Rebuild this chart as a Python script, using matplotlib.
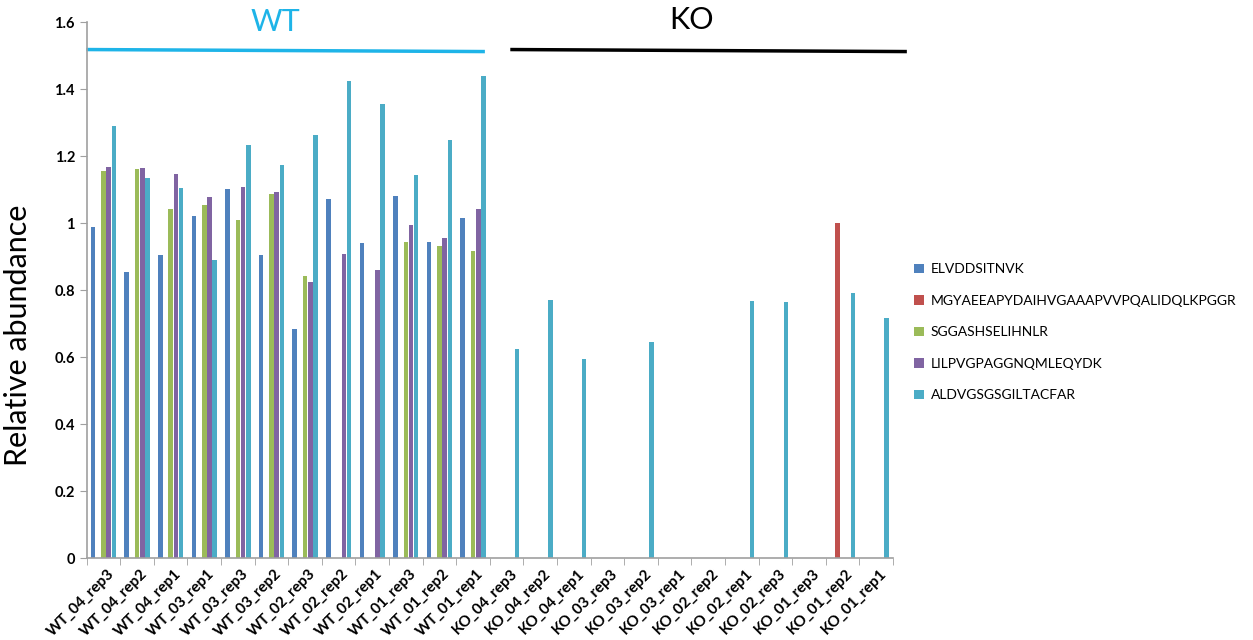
import numpy as np
import matplotlib
matplotlib.use("Agg")
import matplotlib.pyplot as plt

plt.rcParams['font.family'] = ['Lato', 'DejaVu Sans']

samples = ["WT_04_rep3", "WT_04_rep2", "WT_04_rep1", "WT_03_rep1", "WT_03_rep3", "WT_03_rep2",
           "WT_02_rep3", "WT_02_rep2", "WT_02_rep1", "WT_01_rep3", "WT_01_rep2", "WT_01_rep1",
           "KO_04_rep3", "KO_04_rep2", "KO_04_rep1", "KO_03_rep3", "KO_03_rep2", "KO_03_rep1",
           "KO_02_rep2", "KO_02_rep1", "KO_02_rep3", "KO_01_rep3", "KO_01_rep2", "KO_01_rep1"]

peptides = ["ELVDDSITNVK", "MGYAEEAPYDAIHVGAAAPVVPQALIDQLKPGGR", "SGGASHSELIHNLR",
            "LILPVGPAGGNQMLEQYDK", "ALDVGSGSGILTACFAR"]

elvdd = [0.988, 0.855, 0.906, 1.022, 1.103, 0.904, 0.684, 1.073, 0.941, 1.081, 0.943, 1.014,
         0, 0, 0, 0, 0, 0, 0, 0, 0, 0, 0, 0]
mgyae = [0, 0, 0, 0, 0, 0, 0, 0, 0, 0, 0, 0,
         0, 0, 0, 0, 0, 0, 0, 0, 0, 0, 1.0, 0]
sggas = [1.155, 1.161, 1.041, 1.053, 1.008, 1.088, 0.841, 0, 0, 0.943, 0.933, 0.916,
         0, 0, 0, 0, 0, 0, 0, 0, 0, 0, 0, 0]
lilpv = [1.168, 1.163, 1.146, 1.078, 1.107, 1.093, 0.825, 0.909, 0.859, 0.995, 0.955, 1.042,
         0, 0, 0, 0, 0, 0, 0, 0, 0, 0, 0, 0]
aldvg = [1.291, 1.135, 1.105, 0.890, 1.232, 1.174, 1.262, 1.423, 1.355, 1.143, 1.249, 1.440,
         0.624, 0.770, 0.595, 0, 0.645, 0, 0, 0.768, 0.763, 0, 0.790, 0.717]

series = [elvdd, mgyae, sggas, lilpv, aldvg]
colors = ["#4F81BD", "#C0504D", "#9BBB59", "#8064A2", "#4BACC6"]

fig = plt.figure(figsize=(12.53, 6.4), dpi=100)
ax = fig.add_axes([0.0692, 0.128, 0.6435, 0.8375])

x = np.arange(len(samples))
step = 0.154
for k, (vals, col, name) in enumerate(zip(series, colors, peptides)):
    ax.bar(x + (k - 2) * step, vals, width=0.135, color=col, label=name, linewidth=0)

ax.set_xlim(-0.5, len(samples) - 0.5)
ax.set_ylim(0, 1.6)
ax.set_yticks(np.arange(0, 1.61, 0.2))
ax.set_yticklabels(["0", "0.2", "0.4", "0.6", "0.8", "1", "1.2", "1.4", "1.6"],
                   fontsize=10.5, fontweight='bold')
ax.set_xticks(x + 0.1)
ax.set_xticklabels(samples, rotation=45, ha='right', va='top', rotation_mode='anchor',
                   fontsize=11, fontweight='bold')
ax.set_xticks(np.arange(-0.5, len(samples), 1), minor=True)
ax.tick_params(axis='x', which='major', length=0, pad=6)
ax.tick_params(axis='x', which='minor', length=5, color='#A0A0A0')
ax.tick_params(axis='y', length=5, color='#A0A0A0')

for s in ['top', 'right']:
    ax.spines[s].set_visible(False)
for s in ['left', 'bottom']:
    ax.spines[s].set_color('#A0A0A0')
    ax.spines[s].set_linewidth(1.2)

ax.set_ylabel("Relative abundance", fontsize=22)
ax.yaxis.set_label_coords(-0.068, 0.415)

# group headers
ax.plot([-0.46, 11.3], [1.518, 1.512], color='#1EB4E8', lw=2.5, clip_on=False)
ax.text(5.13, 1.6, "WT", color='#1EB4E8', fontsize=22, ha='center', va='center')
ax.plot([12.16, 23.86], [1.518, 1.512], color='black', lw=2.5, clip_on=False)
ax.text(17.5, 1.605, "KO", color='black', fontsize=22, ha='center', va='center')

fig.legend(loc='upper left', bbox_to_anchor=(0.725, 0.597), frameon=False,
           fontsize=10, handlelength=0.7, handleheight=0.7, handletextpad=0.5,
           labelspacing=1.4, borderaxespad=0)

fig.savefig("out.png", dpi=100)
